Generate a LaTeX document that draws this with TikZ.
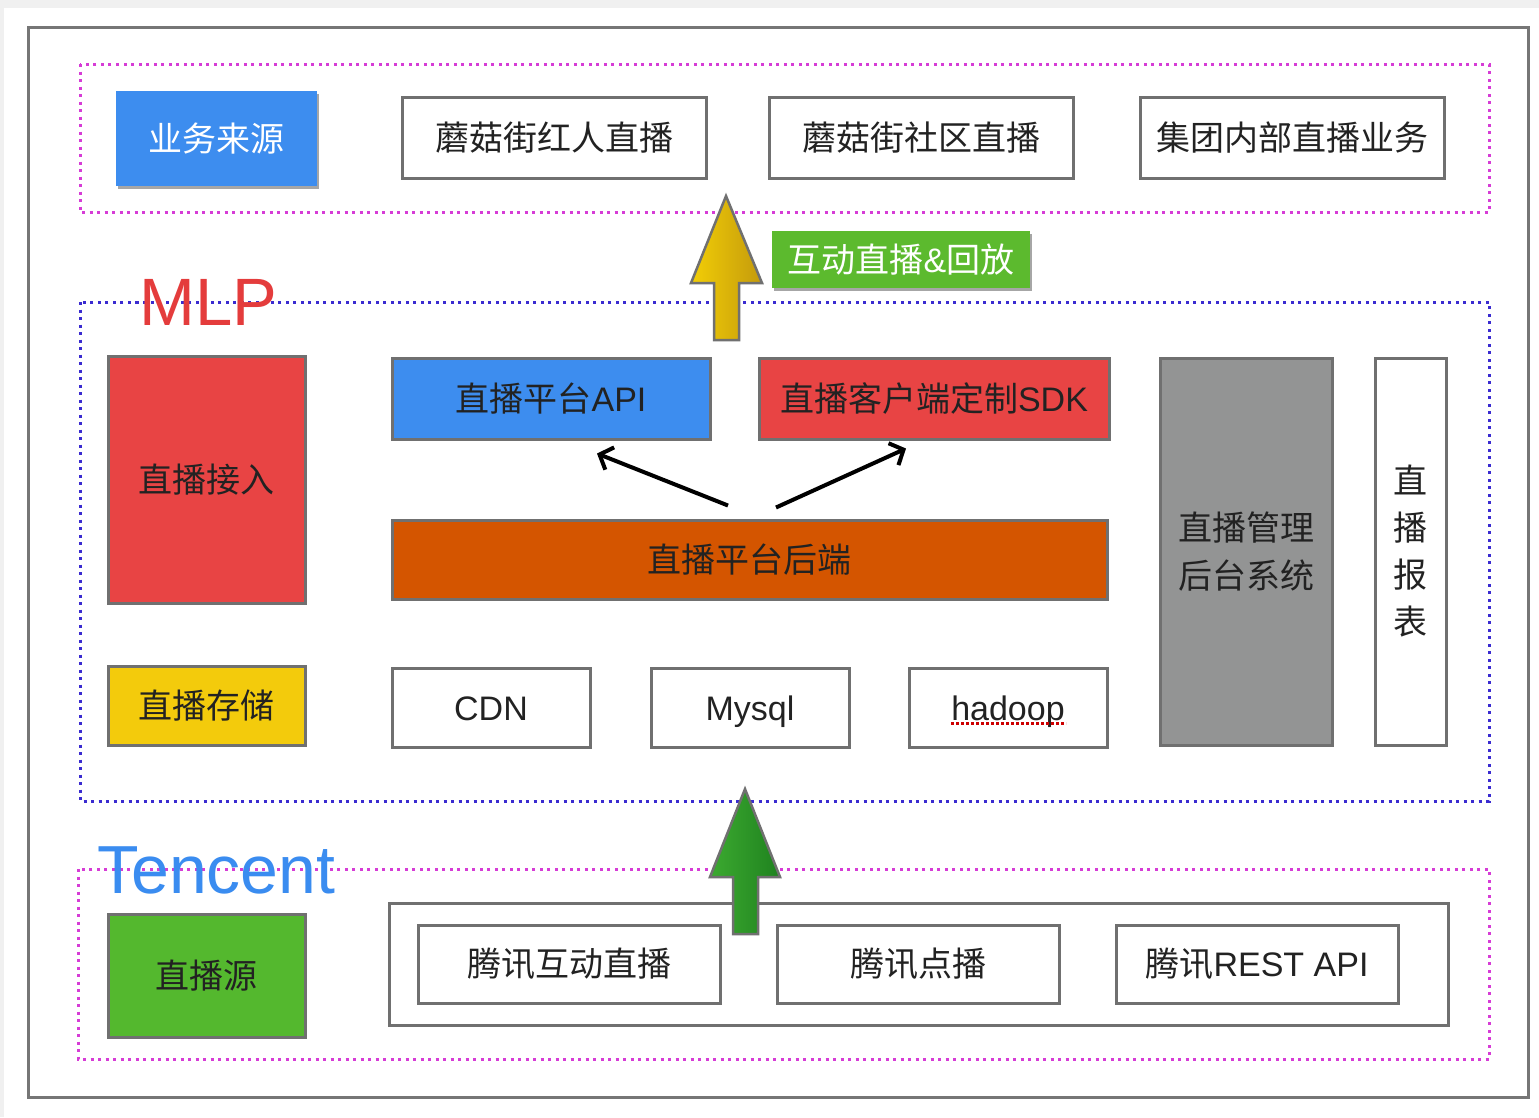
\documentclass[tikz,border=0pt]{standalone}
\usepackage{fontspec}
\setmainfont{Liberation Sans}
\newfontfamily\cjk{Noto Sans CJK SC}
\usetikzlibrary{arrows.meta,shadows}
\definecolor{bordergray}{HTML}{707070}
\definecolor{txt}{HTML}{222222}
\definecolor{myblue}{HTML}{3D8DEF}
\definecolor{myred}{HTML}{E84444}
\definecolor{myorange}{HTML}{D45500}
\definecolor{mygray}{HTML}{939494}
\definecolor{myyellow}{HTML}{F3CB0C}
\definecolor{mygreen}{HTML}{54B82E}
\definecolor{labgreen}{HTML}{5CBA2E}
\definecolor{magdotc}{HTML}{D63CD6}
\definecolor{bluedotc}{HTML}{3A2BD0}
\definecolor{framegray}{HTML}{767676}
\definecolor{bggray}{HTML}{F0F0F0}
\definecolor{yelL}{HTML}{F2CE06}
\definecolor{yelR}{HTML}{C49A0C}
\definecolor{grnL}{HTML}{3CAA30}
\definecolor{grnR}{HTML}{1F821F}
\definecolor{mlpred}{HTML}{E43C3C}
\definecolor{tenblue}{HTML}{3A8CF0}
\begin{document}
\begin{tikzpicture}[x=1pt,y=-1pt,
  box/.style={draw=bordergray, line width=3pt, fill=white, inner sep=0pt,
    font=\fontsize{34}{40}\selectfont, text=txt},
  latin/.style={text height=25pt, text depth=0pt},
  flat/.style={inner sep=0pt, font=\fontsize{34}{40}\selectfont, text=white,
    drop shadow={shadow xshift=1.5pt, shadow yshift=-3pt, opacity=0.35, fill=black}},
  magdot/.style={draw=magdotc, line width=3pt, dash pattern=on 3pt off 4.5pt},
  bluedot/.style={draw=bluedotc, line width=3pt, dash pattern=on 3pt off 4.5pt},
  thinarrow/.style={line width=4pt, -{Straight Barb[length=11pt,width=24pt]}},
  blockarrow/.style={draw=bordergray, line width=2.5pt, line join=miter}]
\useasboundingbox (0,0) rectangle (1539,1117);
\fill[bggray] (0,0) rectangle (1539,1117);
\fill[white] (4,8) rectangle (1539,1117);
% outer frame
\draw[framegray, line width=3pt] (28,27) rectangle (1528,1097);
% group frames
\draw[magdot] (80,64) rectangle (1489,212);
\draw[bluedot] (80,302) rectangle (1489,801);
\draw[magdot] (78,869) rectangle (1489,1059);

% top row
\node[flat, fill=myblue, minimum width=201pt, minimum height=95pt] (src) at (216.5,138.5) {\cjk 业务来源};
\node[box, minimum width=304pt, minimum height=81pt] (b1) at (554,137.5) {\cjk 蘑菇街红人直播};
\node[box, minimum width=304pt, minimum height=81pt] (b2) at (921,137.5) {\cjk 蘑菇街社区直播};
\node[box, minimum width=304pt, minimum height=81pt] (b3) at (1292,137.5) {\cjk 集团内部直播业务};

% label
\node[flat, fill=labgreen, minimum width=258pt, minimum height=57pt] (lab) at (901,259.5) {{\cjk 互动直播}\&{\cjk 回放}};

% MLP
\node[anchor=base west, inner sep=0pt, text=mlpred, font=\fontsize{67}{70}\selectfont] (mlp) at (139,325) {MLP};

% MLP content
\node[box, fill=myred, minimum width=197pt, minimum height=247pt] (acc) at (206.5,479.5) {\cjk 直播接入};
\node[box, fill=myblue, minimum width=318pt, minimum height=81pt] (api) at (551,398.5) {{\cjk 直播平台}API};
\node[box, fill=myred, minimum width=350pt, minimum height=81pt] (sdk) at (934,398.5) {{\cjk 直播客户端定制}SDK};
\node[box, fill=myorange, minimum width=715pt, minimum height=79pt] (be) at (749.5,559.5) {\cjk 直播平台后端};
\node[box, fill=mygray, minimum width=172pt, minimum height=387pt, align=center, font=\fontsize{34}{48}\selectfont] (mgmt) at (1246,551.5) {\cjk 直播管理\\\cjk 后台系统};
\node[box, minimum width=71pt, minimum height=387pt, align=center, font=\fontsize{34}{47}\selectfont] (rep) at (1410.5,551.5) {\cjk 直\\\cjk 播\\\cjk 报\\\cjk 表};
\node[box, fill=myyellow, minimum width=197pt, minimum height=79pt] (sto) at (206.5,705.5) {\cjk 直播存储};
\node[box, latin, minimum width=198pt, minimum height=79pt] (cdn) at (491,707.5) {CDN};
\node[box, latin, minimum width=198pt, minimum height=79pt] (sql) at (750,707.5) {Mysql};
\node[box, latin, minimum width=198pt, minimum height=79pt] (had) at (1008,707.5) {hadoop};
\draw[red!80!black, line width=2.5pt, dash pattern=on 2.5pt off 2.5pt] ([shift={(-57,16)}]had.center) -- ([shift={(58,16)}]had.center);

% thin arrows
\draw[thinarrow] ([shift={(-21.5,-13)}]be.north) -- ([shift={(46,13)}]api.south);
\draw[thinarrow] ([shift={(26.5,-11)}]be.north) -- ([shift={(-28,8)}]sdk.south);

% Tencent
\node[anchor=base west, inner sep=0pt, text=tenblue, font=\fontsize{68}{72}\selectfont] (ten) at (97,893) {Tencent};
\node[box, fill=mygreen, minimum width=197pt, minimum height=123pt] (lsrc) at (206.5,975.5) {\cjk 直播源};
\node[box, minimum width=1059pt, minimum height=122pt] (tbig) at (918.5,964) {};
\node[box, minimum width=302pt, minimum height=78pt] (t1) at (569,964) {\cjk 腾讯互动直播};
\node[box, minimum width=282pt, minimum height=78pt] (t2) at (918,964) {\cjk 腾讯点播};
\node[box, minimum width=282pt, minimum height=78pt] (t3) at (1257,964) {{\cjk 腾讯}REST API};

% block arrows
\path[blockarrow, left color=yelL, right color=yelR]
  (714,340) -- (739,340) -- (739,283) -- (762,283) -- (726,196) -- (691,283) -- (714,283) -- cycle;
\path[blockarrow, left color=grnL, right color=grnR]
  (733,934) -- (758,934) -- (758,877) -- (780,877) -- (745,789) -- (710,877) -- (733,877) -- cycle;
\end{tikzpicture}
\end{document}
